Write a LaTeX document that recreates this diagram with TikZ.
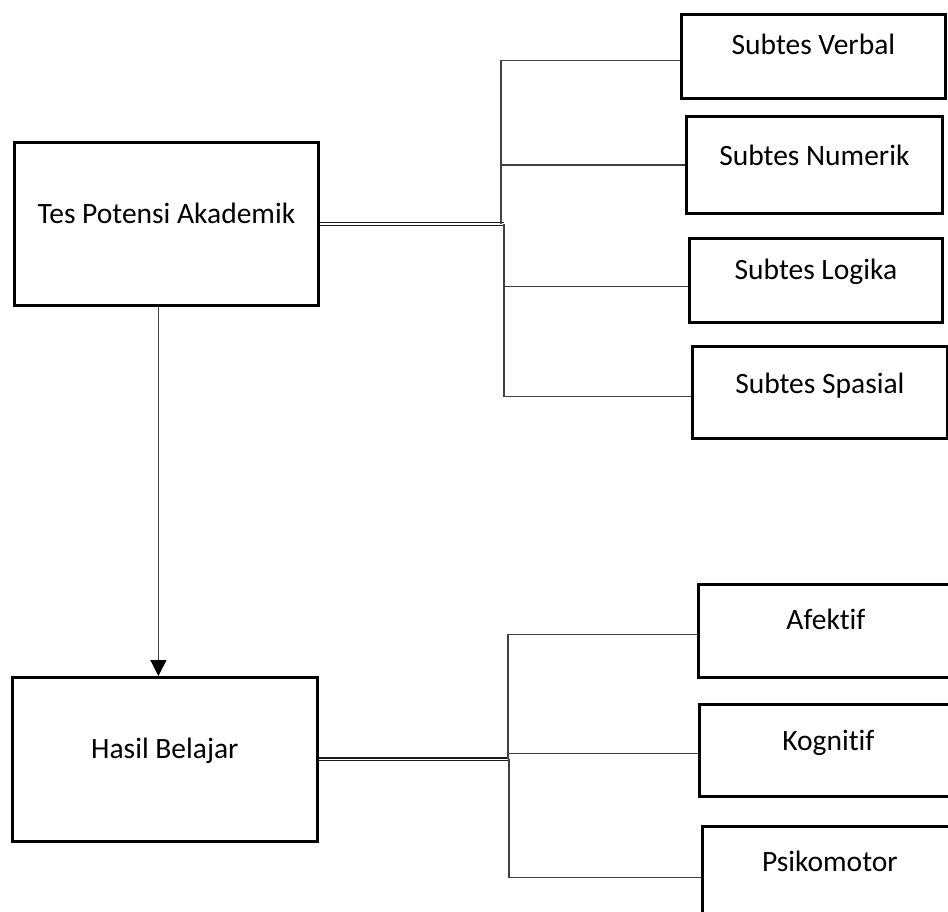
\documentclass[tikz,border=0pt]{standalone}
\usepackage{fontspec}
\setmainfont{Carlito}[Ligatures=NoCommon]
\usepackage{tikz}
\usetikzlibrary{arrows.meta}

\begin{document}
\begin{tikzpicture}[x=1pt,y=-1pt,
	kotak/.style={draw,line width=2.8pt,inner sep=0pt,anchor=north west,font=\fontsize{29.5}{34}\selectfont},
	garis/.style={draw=black!75,line width=1.3pt},
	ganda/.style={draw=black!90,double,double distance=1.5pt,line width=1.2pt}]
	\clip (0,0) rectangle (948,911);
	%left column
	\node[kotak,minimum width=304pt,text height=81pt,text depth=82pt] (tpa) at (13,141) {Tes Potensi Akademik};
	\node[kotak,minimum width=305pt,text height=81pt,text depth=83pt] (hasil) at (11,676) {Hasil Belajar};
	\draw[garis,-{Triangle[width=16pt,length=16pt,color=black]}] ([xshift=-8pt]tpa.south) -- ([xshift=-8pt]tpa.south |- hasil.north);

	%subtes
	\node[kotak,minimum width=264pt,text height=40pt,text depth=44pt] (verbal) at (680,13) {Subtes Verbal};
	\node[kotak,minimum width=256pt,text height=49pt,text depth=48pt] (numerik) at (685,115) {Subtes Numerik};
	\node[kotak,minimum width=253pt,text height=41pt,text depth=43pt] (logika) at (688,237) {Subtes Logika};
	\node[kotak,minimum width=255pt,text height=47pt,text depth=45pt] (spasial) at (691,345) {Subtes Spasial};
	\coordinate (ja) at (501,0);
	\coordinate (jb) at (504,0);
	\draw[ganda] (tpa.east) -- (tpa.east -| jb);
	\draw[garis] ([yshift=-4pt]verbal.west) -| (ja |- tpa.east);
	\draw[garis] (numerik.west) -| (ja |- tpa.east);
	\draw[garis] ([yshift=-6pt]logika.west) -| (jb |- tpa.east);
	\draw[garis] ([yshift=-4pt]spasial.west) -| (jb |- tpa.east);

	%ranah hasil belajar
	\node[kotak,minimum width=255pt,text height=45pt,text depth=48pt] (afektif) at (697,583) {Afektif};
	\node[kotak,minimum width=258pt,text height=46pt,text depth=46pt] (kognitif) at (698,703) {Kognitif};
	\node[kotak,minimum width=255pt,text height=45pt,text depth=47pt] (psikomotor) at (701,825) {Psikomotor};
	\coordinate (jc) at (508,0);
	\coordinate (jd) at (509,0);
	\draw[ganda] (hasil.east) -- (hasil.east -| jd);
	\draw[garis] ([yshift=-3.5pt]afektif.west) -| (jc |- hasil.east);
	\draw[garis] ([yshift=-3pt]kognitif.west) -| (jc |- hasil.east);
	\draw[garis] ([yshift=-5pt]psikomotor.west) -| (jd |- hasil.east);
\end{tikzpicture}
\end{document}
